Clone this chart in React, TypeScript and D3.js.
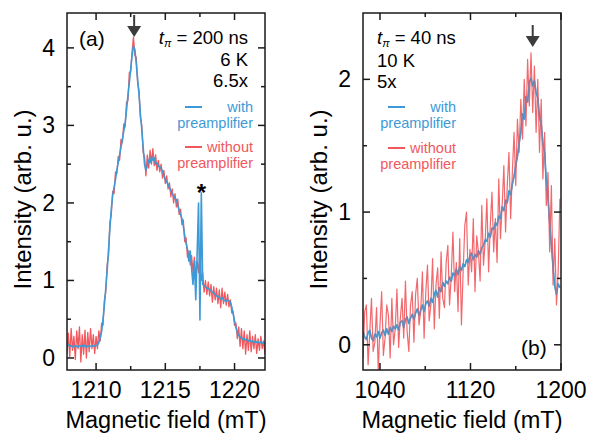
import React from 'react';
import * as d3 from 'd3';

// ---------- Panel (a) data ----------
const fieldA = [
  1207.9,1208.0,1208.1,1208.2,1208.3,1208.4,1208.5,1208.6,1208.7,1208.8,
  1208.9,1209.0,1209.1,1209.2,1209.3,1209.4,1209.5,1209.6,1209.7,1209.8,
  1209.9,1210.0,1210.1,1210.2,1210.3,1210.4,1210.5,1210.6,1210.7,1210.8,
  1210.9,1211.0,1211.1,1211.2,1211.3,1211.4,1211.5,1211.6,1211.7,1211.8,
  1211.9,1212.0,1212.1,1212.2,1212.3,1212.4,1212.5,1212.6,1212.7,1212.8,
  1212.9,1213.0,1213.1,1213.2,1213.3,1213.4,1213.5,1213.6,1213.7,1213.8,
  1213.9,1214.0,1214.1,1214.2,1214.3,1214.4,1214.5,1214.6,1214.7,1214.8,
  1214.9,1215.0,1215.1,1215.2,1215.3,1215.4,1215.5,1215.6,1215.7,1215.8,
  1215.9,1216.0,1216.1,1216.2,1216.3,1216.4,1216.5,1216.6,1216.7,1216.8,
  1216.9,1217.0,1217.1,1217.2,1217.3,1217.4,1217.5,1217.6,1217.7,1217.8,
  1217.9,1218.0,1218.1,1218.2,1218.3,1218.4,1218.5,1218.6,1218.7,1218.8,
  1218.9,1219.0,1219.1,1219.2,1219.3,1219.4,1219.5,1219.6,1219.7,1219.8,
  1219.9,1220.0,1220.1,1220.2,1220.3,1220.4,1220.5,1220.6,1220.7,1220.8,
  1220.9,1221.0,1221.1,1221.2,1221.3,1221.4,1221.5,1221.6,1221.7,1221.8,
  1221.9,1222.0,1222.1,1222.2,
];
const withPreampA = [
  0.19,0.17,0.15,0.16,0.14,0.15,0.16,0.15,0.14,0.16,
  0.15,0.15,0.17,0.15,0.14,0.16,0.15,0.15,0.16,0.15,
  0.16,0.16,0.17,0.2,0.26,0.34,0.5,0.68,0.9,1.13,
  1.4,1.68,1.92,2.1,2.2,2.3,2.42,2.52,2.62,2.72,
  2.82,2.93,3.03,3.2,3.38,3.55,3.72,3.9,4.02,3.98,
  3.8,3.6,3.4,3.15,2.95,2.72,2.5,2.42,2.48,2.55,
  2.52,2.6,2.55,2.58,2.5,2.52,2.48,2.46,2.45,2.4,
  2.35,2.3,2.27,2.24,2.2,2.16,2.12,2.09,2.06,2.04,
  1.97,1.9,1.85,1.8,1.7,1.58,1.48,1.4,1.25,1.38,
  1.15,0.95,1.25,0.75,1.35,2.0,0.49,2.13,0.95,0.93,
  0.92,0.9,0.9,0.88,0.87,0.85,0.84,0.82,0.8,0.8,
  0.78,0.76,0.78,0.75,0.74,0.73,0.75,0.74,0.72,0.66,
  0.57,0.48,0.4,0.33,0.29,0.27,0.26,0.24,0.25,0.23,
  0.24,0.22,0.23,0.21,0.22,0.2,0.22,0.2,0.21,0.19,
  0.21,0.2,0.18,0.2,
];
const withoutPreampA = [
  0.05,0.32,0.02,0.38,0.1,0.28,-0.02,0.35,0.12,0.4,
  -0.05,0.3,0.05,0.36,0.0,0.33,0.08,0.38,0.12,0.3,
  0.06,0.28,0.12,0.35,0.22,0.45,0.42,0.75,0.85,1.2,
  1.32,1.75,1.85,2.15,2.12,2.4,2.38,2.6,2.55,2.82,
  2.78,3.02,2.98,3.3,3.32,3.68,3.7,3.95,4.14,3.9,
  3.88,3.55,3.45,3.1,3.0,2.65,2.6,2.35,2.62,2.45,
  2.68,2.5,2.7,2.48,2.62,2.42,2.55,2.4,2.5,2.32,
  2.42,2.25,2.35,2.18,2.26,2.08,2.18,2.0,2.12,1.95,
  2.05,1.85,1.92,1.72,1.78,1.5,1.55,1.3,1.38,1.2,
  1.32,1.1,1.3,1.05,1.25,1.1,1.35,1.0,1.1,0.85,
  1.0,0.82,0.98,0.8,0.95,0.72,0.92,0.75,0.9,0.7,
  0.88,0.65,0.9,0.7,0.85,0.68,0.82,0.66,0.75,0.58,
  0.6,0.42,0.45,0.25,0.4,0.15,0.38,0.12,0.35,0.05,
  0.3,0.1,0.35,0.08,0.28,0.12,0.3,0.06,0.25,0.1,
  0.28,0.12,0.22,0.05,
];

// ---------- Panel (b) data ----------
const fieldB = [
  1025,1026.5,1028,1029.5,1031,1032.5,1034,1035.5,1037,1038.5,
  1040,1041.5,1043,1044.5,1046,1047.5,1049,1050.5,1052,1053.5,
  1055,1056.5,1058,1059.5,1061,1062.5,1064,1065.5,1067,1068.5,
  1070,1071.5,1073,1074.5,1076,1077.5,1079,1080.5,1082,1083.5,
  1085,1086.5,1088,1089.5,1091,1092.5,1094,1095.5,1097,1098.5,
  1100,1101.5,1103,1104.5,1106,1107.5,1109,1110.5,1112,1113.5,
  1115,1116.5,1118,1119.5,1121,1122.5,1124,1125.5,1127,1128.5,
  1130,1131.5,1133,1134.5,1136,1137.5,1139,1140.5,1142,1143.5,
  1145,1146.5,1148,1149.5,1151,1152.5,1154,1155.5,1157,1158.5,
  1160,1161.5,1163,1164.5,1166,1167.5,1169,1170.5,1172,1173.5,
  1175,1176.5,1178,1179.5,1181,1182.5,1184,1185.5,1187,1188.5,
  1190,1191.5,1193,1194.5,1196,1197.5,1199,
];
const withPreampB = [
  0.10,0.06,0.04,0.09,0.11,0.05,0.03,0.08,0.06,0.10,
  0.05,0.09,0.11,0.07,0.12,0.08,0.13,0.10,0.14,0.12,
  0.15,0.11,0.17,0.18,0.13,0.19,0.21,0.16,0.20,0.23,
  0.19,0.24,0.27,0.22,0.26,0.30,0.25,0.31,0.33,0.29,
  0.35,0.32,0.38,0.41,0.36,0.43,0.40,0.47,0.44,0.48,
  0.46,0.51,0.48,0.54,0.52,0.57,0.53,0.59,0.56,0.61,
  0.59,0.64,0.62,0.67,0.69,0.64,0.68,0.66,0.71,0.68,
  0.73,0.75,0.79,0.78,0.84,0.81,0.88,0.87,0.92,0.90,
  0.97,0.95,1.04,1.01,1.09,1.07,1.16,1.13,1.21,1.27,
  1.35,1.42,1.52,1.60,1.74,1.70,1.87,1.83,1.98,2.01,
  1.95,1.99,1.90,1.86,1.72,1.66,1.52,1.45,1.24,1.10,
  0.92,0.75,0.58,0.44,0.38,0.46,0.43,
];
const withoutPreampB = [
  -0.1,0.25,0.3,-0.15,0.1,0.35,-0.05,0.02,0.28,-0.2,
  0.15,0.4,-0.08,0.05,0.3,0.22,-0.1,0.35,0.0,0.12,
  0.42,-0.02,0.2,0.35,0.05,0.48,0.1,-0.05,0.3,0.4,
  0.02,0.38,0.5,0.15,0.25,0.55,0.05,0.4,0.6,0.18,
  0.3,0.65,0.12,0.45,0.58,0.2,0.7,0.35,0.28,0.62,
  0.75,0.3,0.52,0.85,0.4,0.62,0.25,0.8,0.15,0.55,
  0.9,1.0,0.45,0.72,0.55,0.95,0.4,0.82,0.7,0.48,
  1.05,0.6,0.78,1.1,0.55,0.9,1.15,0.7,0.95,0.62,
  1.25,0.8,1.05,1.35,0.85,1.2,1.45,0.95,1.3,1.6,
  1.2,1.7,1.45,1.85,1.55,2.0,1.65,2.15,1.8,2.2,
  1.75,2.1,1.6,2.0,1.45,1.85,1.25,1.6,1.05,1.3,
  0.7,1.2,0.45,0.8,0.3,0.55,1.1,
];

// ---------- Axis ticks ----------
const majorXA = [1210, 1215, 1220];
const minorXA = [1212.5, 1217.5];
const majorYA = [0, 1, 2, 3, 4];
const minorYA = [0.5, 1.5, 2.5, 3.5];
const majorXB = [1040, 1120, 1200];
const minorXB = [1080, 1160];
const majorYB = [0, 1, 2];
const minorYB = [0.5, 1.5];

const BLUE = '#3d9ad6';
const RED = '#f0585d';
const AXIS = '#1a1a1a';
const ARROW = '#3c3c3c';
const FONT = "'Liberation Sans', Arial, Helvetica, sans-serif";

type Box = { left: number; right: number; top: number; bottom: number };

function Frame({ box, x, y, mx, Mx, my, My, xLabels, yLabels }: any) {
  const maj = 7, min = 4;
  const els: any[] = [];
  Mx.forEach((v: number, i: number) => {
    const px = x(v);
    els.push(<line key={'bx' + i} x1={px} x2={px} y1={box.bottom} y2={box.bottom - maj} />);
    els.push(<line key={'tx' + i} x1={px} x2={px} y1={box.top} y2={box.top + maj} />);
  });
  mx.forEach((v: number, i: number) => {
    const px = x(v);
    els.push(<line key={'bmx' + i} x1={px} x2={px} y1={box.bottom} y2={box.bottom - min} />);
    els.push(<line key={'tmx' + i} x1={px} x2={px} y1={box.top} y2={box.top + min} />);
  });
  My.forEach((v: number, i: number) => {
    const py = y(v);
    els.push(<line key={'ly' + i} x1={box.left} x2={box.left + maj} y1={py} y2={py} />);
    els.push(<line key={'ry' + i} x1={box.right} x2={box.right - maj} y1={py} y2={py} />);
  });
  my.forEach((v: number, i: number) => {
    const py = y(v);
    els.push(<line key={'lmy' + i} x1={box.left} x2={box.left + min} y1={py} y2={py} />);
    els.push(<line key={'rmy' + i} x1={box.right} x2={box.right - min} y1={py} y2={py} />);
  });
  return (
    <g>
      <g stroke={AXIS} strokeWidth={1.5}>{els}</g>
      <rect x={box.left} y={box.top} width={box.right - box.left} height={box.bottom - box.top}
        fill="none" stroke={AXIS} strokeWidth={1.5} />
      <g fontSize={23} fill="#000" textAnchor="middle">
        {Mx.map((v: number, i: number) => (
          <text key={'xl' + i} x={x(v)} y={box.bottom + 28}>{xLabels[i]}</text>
        ))}
      </g>
      <g fontSize={23} fill="#000" textAnchor="end">
        {My.map((v: number, i: number) => (
          <text key={'yl' + i} x={box.left - 12} y={y(v) + 8}>{yLabels[i]}</text>
        ))}
      </g>
      <text x={(box.left + box.right) / 2} y={box.bottom + 58} fontSize={23.5} textAnchor="middle">
        Magnetic field (mT)
      </text>
      <text transform={`translate(${box.left - 36},${(box.top + box.bottom) / 2 + 8}) rotate(-90)`}
        fontSize={24} textAnchor="middle">Intensity (arb. u.)</text>
    </g>
  );
}

function Arrow({ x, top }: { x: number; top: number }) {
  return (
    <g>
      <line x1={x} x2={x} y1={top} y2={top + 12} stroke={ARROW} strokeWidth={2} />
      <path d={`M${x - 7},${top + 11} L${x + 7},${top + 11} L${x},${top + 22} Z`} fill={ARROW} />
    </g>
  );
}

export default function App() {
  const boxA: Box = { left: 67, right: 265, top: 13, bottom: 370 };
  const boxB: Box = { left: 363, right: 561, top: 13, bottom: 370 };
  const xA = d3.scaleLinear().domain([1207.9, 1222.2]).range([boxA.left, boxA.right]);
  const yA = d3.scaleLinear().domain([-0.155, 4.45]).range([boxA.bottom, boxA.top]);
  const xB = d3.scaleLinear().domain([1025, 1200]).range([boxB.left, boxB.right]);
  const yB = d3.scaleLinear().domain([-0.19, 2.5]).range([boxB.bottom, boxB.top]);

  const lineA = (vals: number[]) =>
    d3.line<number>().x((_, i) => xA(fieldA[i])).y((d) => yA(d))(vals) || '';
  const lineB = (vals: number[]) =>
    d3.line<number>().x((_, i) => xB(fieldB[i])).y((d) => yB(d))(vals) || '';

  return (
    <svg width={589} height={435} style={{ position: 'absolute', left: 0, top: 0 }}
      fontFamily={FONT}>
      <rect width={589} height={435} fill="#fff" />
      <defs>
        <clipPath id="clipA"><rect x={boxA.left} y={boxA.top} width={boxA.right - boxA.left} height={boxA.bottom - boxA.top} /></clipPath>
        <clipPath id="clipB"><rect x={boxB.left} y={boxB.top} width={boxB.right - boxB.left} height={boxB.bottom - boxB.top} /></clipPath>
      </defs>

      {/* Panel (a) */}
      <g clipPath="url(#clipA)">
        <path d={lineA(withoutPreampA)} fill="none" stroke={RED} strokeWidth={1.3} strokeLinejoin="round" />
        <path d={lineA(withPreampA)} fill="none" stroke={BLUE} strokeWidth={1.6} strokeLinejoin="round" />
      </g>
      <Frame box={boxA} x={xA} y={yA} mx={minorXA} Mx={majorXA} my={minorYA} My={majorYA}
        xLabels={majorXA.map(String)} yLabels={majorYA.map(String)} />
      <Arrow x={xA(1212.75)} top={15} />
      <text x={xA(1217.6)} y={yA(2.13) + 8} fontSize={24} fontWeight="bold" textAnchor="middle">*</text>
      <text x={79} y={46} fontSize={21}>(a)</text>
      <g fontSize={18.5} textAnchor="end">
        <text x={248} y={44}>
          <tspan fontStyle="italic">t</tspan>
          <tspan fontStyle="italic" fontSize={11} dy={3}>π</tspan>
          <tspan dy={-3}> = 200 ns</tspan>
        </text>
        <text x={248} y={66}>6 K</text>
        <text x={248} y={87}>6.5x</text>
      </g>
      <g fontSize={14.5} textAnchor="end">
        <line x1={185} x2={202} y1={107} y2={107} stroke={BLUE} strokeWidth={2} />
        <text x={253} y={112} fill={BLUE}>with</text>
        <text x={253} y={128} fill={BLUE}>preamplifier</text>
        <line x1={185} x2={202} y1={147} y2={147} stroke={RED} strokeWidth={2} />
        <text x={253} y={152} fill={RED}>without</text>
        <text x={253} y={168} fill={RED}>preamplifier</text>
      </g>

      {/* Panel (b) */}
      <g clipPath="url(#clipB)">
        <path d={lineB(withPreampB)} fill="none" stroke={BLUE} strokeWidth={1.6} strokeLinejoin="round" />
        <path d={lineB(withoutPreampB)} fill="none" stroke={RED} strokeWidth={1.2} strokeLinejoin="round" strokeOpacity={0.9} />
        <path d={lineB(withPreampB)} fill="none" stroke={BLUE} strokeWidth={1.4} strokeLinejoin="round" strokeOpacity={0.55} />
      </g>
      <Frame box={boxB} x={xB} y={yB} mx={minorXB} Mx={majorXB} my={minorYB} My={majorYB}
        xLabels={majorXB.map(String)} yLabels={majorYB.map(String)} />
      <Arrow x={xB(1175)} top={25} />
      <text x={521} y={355} fontSize={21}>(b)</text>
      <g fontSize={18.5}>
        <text x={377} y={44}>
          <tspan fontStyle="italic">t</tspan>
          <tspan fontStyle="italic" fontSize={11} dy={3}>π</tspan>
          <tspan dy={-3}> = 40 ns</tspan>
        </text>
        <text x={377} y={67}>10 K</text>
        <text x={377} y={88}>5x</text>
      </g>
      <g fontSize={14.5} textAnchor="end">
        <line x1={388} x2={405} y1={107} y2={107} stroke={BLUE} strokeWidth={2} />
        <text x={456} y={112} fill={BLUE}>with</text>
        <text x={456} y={128} fill={BLUE}>preamplifier</text>
        <line x1={388} x2={405} y1={148} y2={148} stroke={RED} strokeWidth={2} />
        <text x={456} y={153} fill={RED}>without</text>
        <text x={456} y={169} fill={RED}>preamplifier</text>
      </g>
    </svg>
  );
}
